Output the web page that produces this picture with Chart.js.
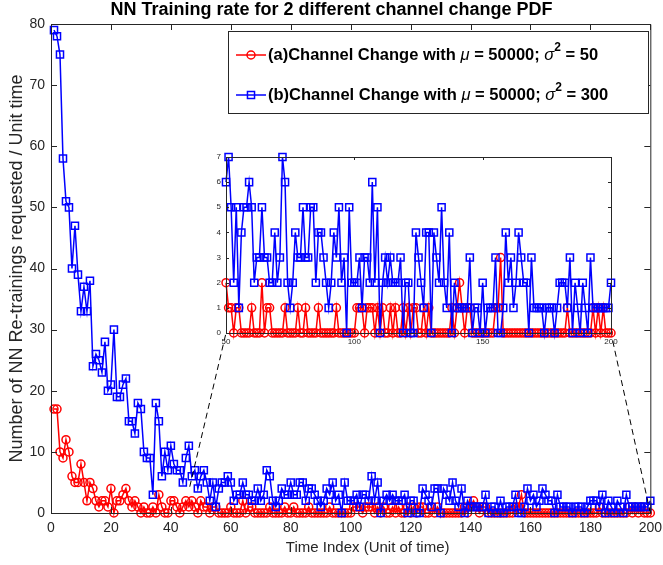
<!DOCTYPE html>
<html>
<head>
<meta charset="utf-8">
<script src="https://cdn.jsdelivr.net/npm/chart.js@4.4.0/dist/chart.umd.min.js"></script>
<style>
  html, body { margin: 0; padding: 0; background: #fff; }
  #wrap { position: relative; width: 663px; height: 565px; }
  #main { position: absolute; left: 0; top: 0; }
  #inset { position: absolute; left: 200px; top: 145px; }
</style>
</head>
<body>
<div id="wrap">
  <canvas id="main" width="663" height="565"></canvas>
  <canvas id="inset" width="420" height="210"></canvas>
</div>
<script>
// re-trainings per unit time, time index 1..200
const retrainA = [
  17, 17, 10, 9, 12, 10, 6, 5, 5, 8, 5, 2, 5, 4, 2, 1, 2, 2, 1, 4,
  0, 2, 2, 3, 4, 2, 1, 2, 1, 0, 1, 0, 0, 1, 0, 3, 1, 0, 0, 2,
  2, 1, 0, 1, 2, 1, 2, 1, 0, 2, 1, 1, 0, 1, 1, 0, 0, 0, 0, 1,
  0, 0, 0, 2, 0, 1, 1, 0, 0, 0, 0, 0, 1, 0, 0, 0, 0, 1, 0, 0,
  1, 0, 0, 0, 0, 1, 0, 0, 0, 0, 0, 0, 1, 0, 0, 0, 0, 0, 0, 0,
  1, 1, 1, 0, 1, 1, 1, 0, 1, 0, 1, 0, 0, 1, 0, 1, 0, 0, 1, 0,
  1, 0, 1, 1, 0, 0, 1, 0, 1, 0, 0, 0, 0, 0, 0, 0, 0, 1, 0, 1,
  2, 1, 0, 1, 1, 0, 0, 0, 0, 0, 0, 0, 0, 0, 1, 1, 3, 0, 0, 0,
  0, 0, 0, 0, 0, 0, 0, 0, 0, 0, 0, 0, 0, 0, 0, 0, 0, 0, 0, 0,
  0, 0, 1, 0, 0, 0, 0, 0, 0, 0, 0, 0, 1, 0, 1, 0, 1, 0, 0, 0
];
const retrainB = [
  79, 78, 75, 58, 51, 50, 40, 47, 39, 33, 37, 33, 38, 24, 26, 25, 23, 28, 20, 21,
  30, 19, 19, 21, 22, 15, 15, 13, 18, 17, 10, 9, 9, 3, 18, 15, 6, 10, 7, 11,
  8, 7, 7, 5, 9, 11, 6, 7, 4, 6, 7, 5, 2, 5, 1, 4, 5, 5, 6, 5,
  2, 3, 3, 5, 3, 3, 2, 2, 4, 2, 3, 7, 6, 2, 1, 2, 4, 3, 3, 5,
  3, 3, 5, 5, 2, 4, 4, 3, 2, 1, 2, 4, 3, 5, 2, 3, 0, 5, 2, 2,
  2, 3, 1, 3, 3, 2, 6, 2, 5, 0, 2, 3, 2, 3, 2, 2, 2, 3, 0, 2,
  2, 0, 0, 4, 3, 2, 1, 4, 4, 0, 4, 3, 2, 5, 2, 1, 4, 0, 2, 1,
  1, 1, 1, 1, 3, 0, 1, 1, 0, 2, 0, 1, 1, 1, 3, 0, 0, 1, 4, 2,
  3, 1, 2, 4, 3, 2, 2, 0, 3, 1, 1, 1, 1, 0, 1, 1, 1, 0, 1, 2,
  2, 2, 1, 3, 0, 2, 1, 0, 2, 1, 0, 3, 1, 1, 1, 1, 1, 1, 1, 2
];
const timeIndex = retrainA.map((_, i) => i + 1);

const mainXTicks = [0, 20, 40, 60, 80, 100, 120, 140, 160, 180, 200];
const mainYTicks = [0, 10, 20, 30, 40, 50, 60, 70, 80];
const insetXTicks = [50, 100, 150, 200];
const insetYTicks = [0, 1, 2, 3, 4, 5, 6, 7];
const insetStart = 50;

const xAxisTitle = 'Time Index (Unit of time)';

// points on the main axes where the dashed guide lines start
const guideFrom = [[46.3, 4.3], [200, 0]];

const legendItems = [
  { color: '#ff0000', marker: 'circle',
    parts: [{ t: '(a)Channel Change with ' }, { t: 'μ', it: true }, { t: ' = 50000; ' },
            { t: 'σ', it: true }, { t: '2', sup: true }, { t: ' = 50' }] },
  { color: '#0000ff', marker: 'rect',
    parts: [{ t: '(b)Channel Change with ' }, { t: 'μ', it: true }, { t: ' = 50000; ' },
            { t: 'σ', it: true }, { t: '2', sup: true }, { t: ' = 300' }] }
];

const FONT = "'Liberation Sans', Arial, Helvetica, sans-serif";
const AXIS = '#262626';

function toXY(xs, ys) {
  return xs.map((x, i) => ({ x: x, y: ys[i] }));
}

function seriesA(data) {
  return {
    label: 'a', data: data, order: 1, clip: false,
    borderColor: '#ff0000', borderWidth: 1.5,
    pointStyle: 'circle', pointRadius: 4, pointBorderWidth: 1.5,
    pointBackgroundColor: 'rgba(0,0,0,0)', pointBorderColor: '#ff0000'
  };
}
function seriesB(data) {
  return {
    label: 'b', data: data, order: 0, clip: false,
    borderColor: '#0000ff', borderWidth: 1.5,
    pointStyle: 'rect', pointRadius: 5, pointBorderWidth: 1.5,
    pointBackgroundColor: 'rgba(0,0,0,0)', pointBorderColor: '#0000ff'
  };
}

// axes box with inward ticks on all four sides
const boxAxes = {
  id: 'boxAxes',
  afterDatasetsDraw(chart, args, opts) {
    const { ctx, chartArea: a, scales: { x, y } } = chart;
    const len = opts.len;
    ctx.save();
    ctx.strokeStyle = AXIS;
    ctx.lineWidth = 1;
    ctx.beginPath();
    ctx.rect(a.left + 0.5, a.top + 0.5, a.right - a.left, a.bottom - a.top);
    opts.xTicks.forEach(v => {
      const px = Math.round(x.getPixelForValue(v)) + 0.5;
      ctx.moveTo(px, a.bottom); ctx.lineTo(px, a.bottom - len);
      ctx.moveTo(px, a.top); ctx.lineTo(px, a.top + len);
    });
    opts.yTicks.forEach(v => {
      const py = Math.round(y.getPixelForValue(v)) + 0.5;
      ctx.moveTo(a.left, py); ctx.lineTo(a.left + len, py);
      ctx.moveTo(a.right, py); ctx.lineTo(a.right - len, py);
    });
    ctx.stroke();
    ctx.restore();
  }
};

function drawParts(ctx, parts, x, y, size) {
  parts.forEach(p => {
    const s = p.sup ? Math.round(size * 0.75) : size;
    ctx.font = (p.it ? 'italic ' : 'bold ') + s + 'px ' + FONT;
    ctx.fillText(p.t, x, p.sup ? y - size * 0.42 : y);
    x += ctx.measureText(p.t).width;
  });
}

// legend box inside the plot, x-axis title and dashed guides to the inset
const extras = {
  id: 'extras',
  afterDraw(chart, args, opts) {
    const { ctx, chartArea: area, scales: { x, y } } = chart;
    ctx.save();
    // legend
    const L = opts.legend;
    ctx.fillStyle = '#fff';
    ctx.fillRect(L.left, L.top, L.width, L.height);
    ctx.strokeStyle = AXIS;
    ctx.lineWidth = 1;
    ctx.strokeRect(L.left + 0.5, L.top + 0.5, L.width, L.height);
    legendItems.forEach((item, i) => {
      const cy = L.top + L.firstRow + i * L.rowGap;
      ctx.strokeStyle = item.color;
      ctx.lineWidth = 1.5;
      ctx.beginPath();
      ctx.moveTo(L.left + 8, cy); ctx.lineTo(L.left + 38, cy);
      ctx.stroke();
      ctx.fillStyle = 'rgba(0,0,0,0)';
      Chart.helpers.drawPoint(ctx, {
        pointStyle: item.marker, radius: item.marker === 'rect' ? 5 : 4, rotation: 0, borderWidth: 1.5
      }, L.left + 23, cy);
      ctx.fillStyle = '#000';
      ctx.textBaseline = 'middle';
      ctx.textAlign = 'left';
      drawParts(ctx, item.parts, L.left + 40, cy, L.fontSize);
    });
    // x-axis title
    ctx.fillStyle = AXIS;
    ctx.font = opts.xTitle.size + 'px ' + FONT;
    ctx.textAlign = 'center';
    ctx.textBaseline = 'middle';
    ctx.fillText(xAxisTitle, (area.left + area.right) / 2 + opts.xTitle.shift, area.bottom + opts.xTitle.drop);
    // dashed guides
    const inset = opts.inset();
    if (inset) {
      const c = inset.canvas;
      const a = inset.chartArea;
      const ends = [[a.left + c.offsetLeft, a.bottom + c.offsetTop],
                    [a.right + c.offsetLeft, a.bottom + c.offsetTop]];
      ctx.strokeStyle = '#000';
      ctx.lineWidth = 1;
      ctx.setLineDash([6, 4]);
      guideFrom.forEach((g, i) => {
        ctx.beginPath();
        ctx.moveTo(x.getPixelForValue(g[0]), y.getPixelForValue(g[1]));
        ctx.lineTo(ends[i][0], ends[i][1]);
        ctx.stroke();
      });
    }
    ctx.restore();
  }
};

const insetXs = timeIndex.slice(insetStart - 1);
const insetChart = new Chart(document.getElementById('inset'), {
  type: 'line',
  data: {
    datasets: [
      seriesA(toXY(insetXs, retrainA.slice(insetStart - 1))),
      seriesB(toXY(insetXs, retrainB.slice(insetStart - 1)))
    ]
  },
  options: {
    responsive: false,
    animation: false,
    layout: { padding: { left: 0, right: 9, top: 12, bottom: 0 } },
    plugins: {
      legend: { display: false }, tooltip: { enabled: false },
      boxAxes: { len: 3, xTicks: insetXTicks, yTicks: insetYTicks }
    },
    scales: {
      x: {
        type: 'linear', min: 50, max: 200,
        afterBuildTicks: s => { s.ticks = insetXTicks.map(v => ({ value: v })); },
        afterFit: s => { s.height = 22; },
        grid: { display: false, drawTicks: true, tickLength: 3 }, border: { display: false },
        ticks: { font: { family: FONT, size: 8 }, color: AXIS, padding: 1, maxRotation: 0 }
      },
      y: {
        type: 'linear', min: 0, max: 7,
        afterBuildTicks: s => { s.ticks = insetYTicks.map(v => ({ value: v })); },
        afterFit: s => { s.width = 26; },
        grid: { display: false, drawTicks: true, tickLength: 0 }, border: { display: false },
        ticks: { font: { family: FONT, size: 8 }, color: AXIS, padding: 5 }
      }
    }
  },
  plugins: [boxAxes]
});

new Chart(document.getElementById('main'), {
  type: 'line',
  data: {
    datasets: [
      seriesA(toXY(timeIndex, retrainA)),
      seriesB(toXY(timeIndex, retrainB))
    ]
  },
  options: {
    responsive: false,
    animation: false,
    // right edge comes from the half-width of the last x label
    layout: { padding: { left: 0, right: 0, top: 0, bottom: 0 } },
    plugins: {
      legend: { display: false }, tooltip: { enabled: false },
      title: {
        display: true,
        text: 'NN Training rate for 2 different channel change PDF',
        font: { family: FONT, size: 18, weight: 'bold', lineHeight: 1.1 }, color: '#000',
        padding: { top: 0.2, bottom: 4 }
      },
      boxAxes: { len: 6, xTicks: mainXTicks, yTicks: mainYTicks },
      extras: {
        inset: () => insetChart,
        xTitle: { size: 15, shift: 17, drop: 35 },
        legend: { left: 228, top: 31, width: 420, height: 82, firstRow: 24, rowGap: 40, fontSize: 16.5 }
      }
    },
    scales: {
      x: {
        type: 'linear', min: 0, max: 200,
        afterBuildTicks: s => { s.ticks = mainXTicks.map(v => ({ value: v })); },
        afterFit: s => { s.height = 52; },
        grid: { display: false, drawTicks: true, tickLength: 6 }, border: { display: false },
        ticks: { font: { family: FONT, size: 14 }, color: AXIS, padding: 1, maxRotation: 0 }
      },
      y: {
        type: 'linear', min: 0, max: 80,
        afterBuildTicks: s => { s.ticks = mainYTicks.map(v => ({ value: v })); },
        afterFit: s => { s.width = 51; },
        grid: { display: false, drawTicks: true, tickLength: 0 }, border: { display: false },
        ticks: { font: { family: FONT, size: 14 }, color: AXIS, padding: 6 },
        title: {
          display: true, text: 'Number of NN Re-trainings requested / Unit time',
          font: { family: FONT, size: 18 }, color: AXIS, padding: { top: 6, bottom: 0 }
        }
      }
    }
  },
  plugins: [boxAxes, extras]
});
</script>
</body>
</html>
